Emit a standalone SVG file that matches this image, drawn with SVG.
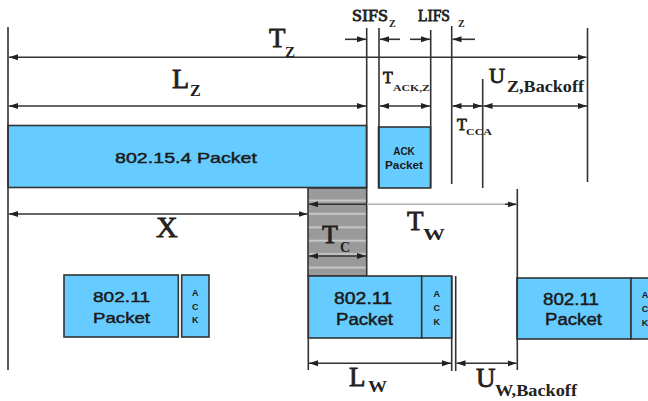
<svg xmlns="http://www.w3.org/2000/svg" width="648" height="401" viewBox="0 0 648 401">
<style>
.ln{stroke:#333;stroke-width:1.6;fill:none}
.ar{stroke:#333;stroke-width:1.6;fill:none;marker-end:url(#ah);marker-start:url(#ah)}
.are{stroke:#333;stroke-width:1.6;fill:none;marker-end:url(#ah)}
.pk{fill:#66CCFF;stroke:#333;stroke-width:1.6}
.pt{font-family:"Liberation Sans",Arial,sans-serif;fill:#1a1a1a;stroke:#1a1a1a;stroke-width:0.45}
.ak{font-family:"Liberation Sans",Arial,sans-serif;font-weight:bold;font-size:9px;fill:#1a1a1a;text-anchor:middle}
.big{font-family:"Liberation Serif","Times New Roman",serif;fill:#222;stroke:#222;stroke-width:0.8}
.sub{font-family:"Liberation Serif","Times New Roman",serif;font-weight:bold;fill:#222}
</style>
<defs>
<marker id="ah" markerUnits="userSpaceOnUse" markerWidth="10" markerHeight="7" refX="9" refY="3.5" orient="auto-start-reverse">
<path d="M0,0.5 L9,3.5 L0,6.5 z" fill="#222"/>
</marker>
<pattern id="stripes" patternUnits="userSpaceOnUse" x="0" y="194" width="10" height="13.4">
<rect width="10" height="13.4" fill="#9a9a9a"/>
<rect y="5.5" width="10" height="2" fill="#c8c8c8"/>
</pattern>
</defs>
<rect width="648" height="401" fill="#fff"/>

<g id="packet-154">
<rect class="pk" x="8" y="125.5" width="358.5" height="62"/>
<text class="pt" x="115" y="162.5" font-size="15" textLength="142" lengthAdjust="spacingAndGlyphs">802.15.4 Packet</text>
</g>
<g id="ack-packet">
<rect class="pk" x="378.5" y="127" width="52" height="61"/>
<text class="ak" x="404" y="155" style="font-size:10px">ACK</text>
<text class="ak" x="404" y="169" style="font-size:10px" textLength="38" lengthAdjust="spacingAndGlyphs">Packet</text>
</g>
<g id="collision">
<rect x="308" y="188" width="58.7" height="88" fill="url(#stripes)" stroke="#333" stroke-width="1.6"/>
</g>
<g id="packet-11-a">
<rect class="pk" x="64" y="275" width="114.3" height="62"/>
<text class="pt" x="93" y="302" font-size="15" textLength="57" lengthAdjust="spacingAndGlyphs">802.11</text>
<text class="pt" x="93" y="322.5" font-size="15" textLength="57" lengthAdjust="spacingAndGlyphs">Packet</text>
</g>
<g id="ack-a">
<rect class="pk" x="181.7" y="275" width="27.3" height="62"/>
<text class="ak" x="195.3" y="296">A</text>
<text class="ak" x="195.3" y="309.5">C</text>
<text class="ak" x="195.3" y="323">K</text>
</g>
<g id="packet-11-b">
<rect class="pk" x="308.3" y="276" width="113.4" height="62"/>
<text class="pt" x="334" y="304" font-size="16" textLength="58" lengthAdjust="spacingAndGlyphs">802.11</text>
<text class="pt" x="336" y="325" font-size="16" textLength="57" lengthAdjust="spacingAndGlyphs">Packet</text>
</g>
<g id="ack-b">
<rect class="pk" x="421.7" y="276" width="30" height="62"/>
<text class="ak" x="436.7" y="297">A</text>
<text class="ak" x="436.7" y="310.5">C</text>
<text class="ak" x="436.7" y="325">K</text>
</g>
<g id="packet-11-c">
<rect class="pk" x="517" y="278" width="114" height="61"/>
<text class="pt" x="543" y="305" font-size="16" textLength="56" lengthAdjust="spacingAndGlyphs">802.11</text>
<text class="pt" x="545" y="325" font-size="16" textLength="57" lengthAdjust="spacingAndGlyphs">Packet</text>
</g>
<g id="ack-c">
<rect class="pk" x="631" y="278" width="30" height="61"/>
<text class="ak" x="645" y="298">A</text>
<text class="ak" x="645" y="311.5">C</text>
<text class="ak" x="645" y="326">K</text>
</g>

<g id="connectors">
<line class="ln" x1="8" y1="27" x2="8" y2="370"/>
<line class="ln" x1="366.7" y1="28" x2="366.7" y2="188"/>
<line class="ln" x1="379" y1="28" x2="379" y2="188"/>
<line class="ln" x1="430.7" y1="30" x2="430.7" y2="188"/>
<line class="ln" x1="451.7" y1="26" x2="451.7" y2="184"/>
<line class="ln" x1="482.7" y1="79" x2="482.7" y2="188"/>
<line class="ln" x1="587.5" y1="28" x2="587.5" y2="182"/>
<line class="ln" x1="308.3" y1="276" x2="308.3" y2="370"/>
<line class="ln" x1="451.7" y1="276" x2="451.7" y2="371"/>
<line class="ln" x1="455.7" y1="276" x2="455.7" y2="371"/>
<line class="ln" x1="517.3" y1="189" x2="517.3" y2="370"/>
<line class="are" x1="345" y1="39.3" x2="366" y2="39.3"/>
<line class="are" x1="400" y1="39.3" x2="380" y2="39.3"/>
<line class="are" x1="410" y1="39.3" x2="430" y2="39.3"/>
<line class="are" x1="475" y1="39.3" x2="452.5" y2="39.3"/>
<line class="ar" x1="9" y1="57.3" x2="586.5" y2="57.3"/>
<line class="ar" x1="9" y1="106" x2="366" y2="106"/>
<line class="ar" x1="380" y1="106" x2="430" y2="106"/>
<line class="ar" x1="452.5" y1="106" x2="482" y2="106"/>
<line class="ar" x1="483.5" y1="106" x2="587" y2="106"/>
<line class="ar" x1="9" y1="214" x2="307.5" y2="214"/>
<line x1="367" y1="204.3" x2="510" y2="204.3" stroke="#b0b0b0" stroke-width="1.6"/>
<line class="are" x1="367" y1="204.3" x2="309" y2="204.3"/>
<line class="are" x1="505" y1="204.3" x2="516.5" y2="204.3"/>
<line class="ar" x1="309" y1="256" x2="366" y2="256"/>
<line class="ar" x1="309" y1="363.3" x2="451" y2="363.3"/>
<line class="ar" x1="456.5" y1="363.3" x2="516.5" y2="363.3"/>
</g>

<g id="labels">
<text class="big" x="352" y="21" font-size="17" textLength="36" lengthAdjust="spacingAndGlyphs">SIFS</text>
<text class="sub" x="389" y="27" font-size="10">Z</text>
<text class="big" x="418" y="21" font-size="17" textLength="32" lengthAdjust="spacingAndGlyphs">LIFS</text>
<text class="sub" x="458" y="27" font-size="10">Z</text>

<text class="big" x="269" y="47" font-size="27">T</text>
<text class="sub" x="285" y="57" font-size="15">Z</text>

<text class="big" x="172" y="88" font-size="28">L</text>
<text class="sub" x="190" y="96" font-size="16">Z</text>

<text class="big" x="383" y="83" font-size="16">T</text>
<text class="sub" x="393" y="91" font-size="9" textLength="37" lengthAdjust="spacingAndGlyphs">ACK,Z</text>

<text class="big" x="489" y="83" font-size="22">U</text>
<text class="sub" x="507" y="92" font-size="16" textLength="77" lengthAdjust="spacingAndGlyphs">Z,Backoff</text>

<text class="big" x="457" y="130" font-size="16">T</text>
<text class="sub" x="466" y="135" font-size="9" textLength="26" lengthAdjust="spacingAndGlyphs">CCA</text>

<text class="big" x="156" y="237" font-size="30">X</text>

<text class="big" x="407" y="230" font-size="27">T</text>
<text class="sub" x="423" y="240" font-size="16" textLength="22" lengthAdjust="spacingAndGlyphs">W</text>

<text class="big" x="322" y="243" font-size="26">T</text>
<text class="sub" x="340" y="252" font-size="14">C</text>

<text class="big" x="349" y="386" font-size="27">L</text>
<text class="sub" x="368" y="392" font-size="16" textLength="19" lengthAdjust="spacingAndGlyphs">W</text>

<text class="big" x="476" y="387" font-size="27">U</text>
<text class="sub" x="495" y="396" font-size="16" textLength="82" lengthAdjust="spacingAndGlyphs">W,Backoff</text>
</g>
</svg>
